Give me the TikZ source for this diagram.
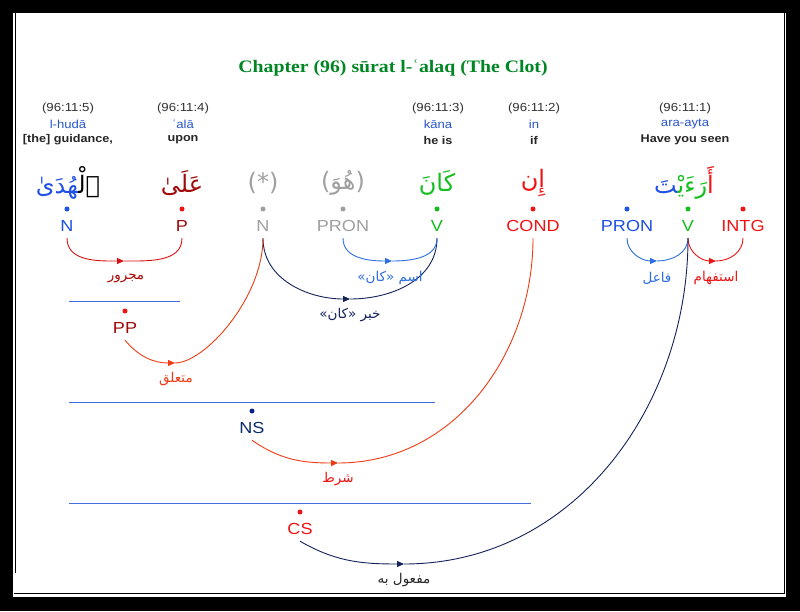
\documentclass[tikz,border=0pt]{standalone}
\usepackage{fontspec}
\usetikzlibrary{arrows.meta}
\setmainfont{Liberation Sans}[FakeStretch=1.13]
\newfontfamily\titlefont{Liberation Serif}[FakeStretch=1.13]
\newfontfamily\arabicfont[Script=Arabic]{DejaVu Sans}
\TeXXeTstate=1
\definecolor{nblue}{RGB}{30,80,230}
\definecolor{pred}{RGB}{160,10,10}
\definecolor{hgray}{RGB}{160,160,160}
\definecolor{vgreen}{RGB}{20,190,30}
\definecolor{cred}{RGB}{240,20,20}
\definecolor{navy}{RGB}{20,35,90}
\definecolor{ored}{RGB}{240,60,20}
\definecolor{lblue}{RGB}{45,110,225}
\definecolor{tgreen}{RGB}{0,135,35}
\definecolor{tblue}{RGB}{40,85,205}
\definecolor{nsnavy}{RGB}{10,45,110}
\definecolor{sepblue}{RGB}{70,110,220}
\begin{document}
\begin{tikzpicture}[x=1pt,y=1pt,
  titlest/.style={font=\fontsize{17.5}{20}\titlefont\bfseries, text=tgreen},
  refst/.style={font=\fontsize{11.7}{13}\selectfont, text=black!80, inner sep=0pt},
  trst/.style={font=\fontsize{11.6}{13}\selectfont, text=tblue, inner sep=0pt},
  glst/.style={font=\fontsize{11.2}{13}\selectfont\bfseries, text=black!85, inner sep=0pt},
  word/.style={font=\fontsize{24}{28}\arabicfont, inner sep=0pt},
  posl/.style={font=\fontsize{16}{18}\selectfont, inner xsep=0pt, inner ysep=6.25pt, text height=11.5pt, text depth=0pt},
  dot/.style={circle, inner sep=0pt, minimum size=5pt},
  rel/.style={font=\fontsize{13.5}{15}\arabicfont, inner sep=1pt},
  arc/.style={line width=0.9pt},
  tip/.style={-{Triangle[length=7pt,width=6pt]}},
  sep/.style={draw=sepblue, line width=0.8pt}]
\useasboundingbox (0,0) rectangle (800,611);
% frame
\fill[black] (0,0) rectangle (800,611);
\fill[white] (13,14) rectangle (786,598);
\draw[black,line width=1pt] (15.5,598) -- (15.5,38);
\draw[black,line width=1pt] (14,17.5) -- (784.5,17.5) -- (784.5,598);
% title
\node[titlest] (title) at (393,543) {Chapter (96) sūrat l-ʿalaq (The Clot)};
% word headers
\node[refst] (r5) at (68,503) {(96:11:5)};
\node[trst]  (t5) at (68,487) {l-hudā};
\node[glst]  (g5) at (68,471) {[the] guidance,};
\node[refst] (r4) at (183,503) {(96:11:4)};
\node[trst]  (t4) at (183,487) {ʿalā};
\node[glst]  (g4) at (183,471) {upon};
\node[refst] (r3) at (438,503) {(96:11:3)};
\node[trst]  (t3) at (438,487) {kāna};
\node[glst]  (g3) at (438,471) {he is};
\node[refst] (r2) at (534,503) {(96:11:2)};
\node[trst]  (t2) at (534,487) {in};
\node[glst]  (g2) at (534,471) {if};
\node[refst] (r1) at (685,503) {(96:11:1)};
\node[trst]  (t1) at (685,487) {ara-ayta};
\node[glst]  (g1) at (685,471) {Have you seen};
% arabic words
\node[word] (w5) at (68,428) {{\color{nblue}^^^^200dهُدَىٰ}{\color{black}ٱلْ^^^^200d}};
\node[word, text=pred] (w4) at (182,428) {عَلَىٰ};
\node[word, text=hgray] (w3a) at (263,428) {(*)};
\node[word, text=hgray] (w3b) at (343,428) {(هُوَ)};
\node[word, text=vgreen] (w3) at (437,428) {كَانَ};
\node[word, text=cred] (w2) at (533,428) {إِن};
\node[word] (w1) at (684,428) {{\color{nblue}^^^^200dتَ}{\color{vgreen}رَءَيْ^^^^200d}{\color{cred}أَ}};
% dots
\node[dot, fill=nblue] (d5) at (67,402) {};
\node[dot, fill=cred] (d4) at (182,402) {};
\node[dot, fill=hgray] (d3a) at (263,402) {};
\node[dot, fill=hgray] (d3b) at (343,402) {};
\node[dot, fill=vgreen] (d3) at (437,402) {};
\node[dot, fill=cred] (d2) at (533,402) {};
\node[dot, fill=nblue] (d1a) at (627,402) {};
\node[dot, fill=vgreen] (d1b) at (688,402) {};
\node[dot, fill=cred] (d1c) at (743,402) {};
% POS labels
\node[posl, text=nblue] (N5) at (67,385) {N};
\node[posl, text=pred] (P4) at (182,385) {P};
\node[posl, text=hgray] (N3) at (263,385) {N};
\node[posl, text=hgray] (PR3) at (343,385) {PRON};
\node[posl, text=vgreen] (V3) at (437,385) {V};
\node[posl, text=cred] (C2) at (533,385) {COND};
\node[posl, text=nblue] (PR1) at (627,385) {PRON};
\node[posl, text=vgreen] (V1) at (688,385) {V};
\node[posl, text=cred] (I1) at (743,385) {INTG};
% phrase nodes
\draw[sep] (69,310) -- (180,310);
\node[dot, fill=cred] (dpp) at (125,300) {};
\node[posl, text=pred] (PP) at (125,283) {PP};
\draw[sep] (69,209) -- (435,209);
\node[dot, fill=nsnavy!80!blue] (dns) at (252,200) {};
\node[posl, text=nsnavy] (NS) at (252,183) {NS};
\draw[sep] (69,108) -- (531,108);
\node[dot, fill=cred] (dcs) at (300,99) {};
\node[posl, text=cred] (CS) at (300,82) {CS};
% bottom points of arcs
\coordinate (b1) at (124,350);
\coordinate (b2) at (392,350);
\coordinate (b3) at (350,312);
\coordinate (b4) at (657,350);
\coordinate (b5) at (716,350);
\coordinate (b6) at (175,248);
\coordinate (b7) at (338,148);
\coordinate (b8) at (404,47);
% arcs
\draw[arc, draw=cred!90!black, tip] (N5.south) to[out=-90,in=180] (b1);
\draw[arc, draw=cred!90!black] (b1) to[out=0,in=-90] (P4.south);
\node[rel, text=pred!85!red] (l1) at (126,333) {مجرور};
\draw[arc, draw=navy, tip] (N3.south) to[out=-90,in=180] (b3);
\draw[arc, draw=navy] (b3) to[out=0,in=-90] (V3.south);
\node[rel, text=navy] (l3) at (350,296) {\beginR خبر «كان»\endR};
\draw[arc, draw=lblue, tip] (PR3.south) to[out=-90,in=180] (b2);
\draw[arc, draw=lblue] (b2) to[out=0,in=-90] (V3.south);
\node[rel, text=lblue] (l2) at (390,333) {\beginR اسم «كان»\endR};
\draw[arc, draw=lblue, tip] (PR1.south) to[out=-90,in=180] (b4);
\draw[arc, draw=lblue] (b4) to[out=0,in=-90] (V1.south);
\node[rel, text=lblue] (l4) at (657,333) {فاعل};
\draw[arc, draw=cred, tip] (V1.south) to[out=-90,in=180] (b5);
\draw[arc, draw=cred] (b5) to[out=0,in=-90] (I1.south);
\node[rel, text=cred] (l5) at (716,333) {استفهام};
\draw[arc, draw=ored, tip] (PP.south) to[out=-50,in=180] (b6);
\draw[arc, draw=ored] (b6) to[out=0,in=-90,out looseness=0.5] (N3.south);
\node[rel, text=ored] (l6) at (176,232) {متعلق};
\draw[arc, draw=ored, tip] (NS.south) to[out=-35,in=180] (b7);
\draw[arc, draw=ored] (b7) to[out=0,in=-90] (C2.south);
\node[rel, text=cred] (l7) at (338,132) {شرط};
\draw[arc, draw=navy, tip] (CS.south) to[out=-30,in=180] (b8);
\draw[arc, draw=navy] (b8) to[out=0,in=-90] (V1.south);
\node[rel, text=black!85] (l8) at (404,31) {\beginR مفعول به\endR};
\end{tikzpicture}
\end{document}
